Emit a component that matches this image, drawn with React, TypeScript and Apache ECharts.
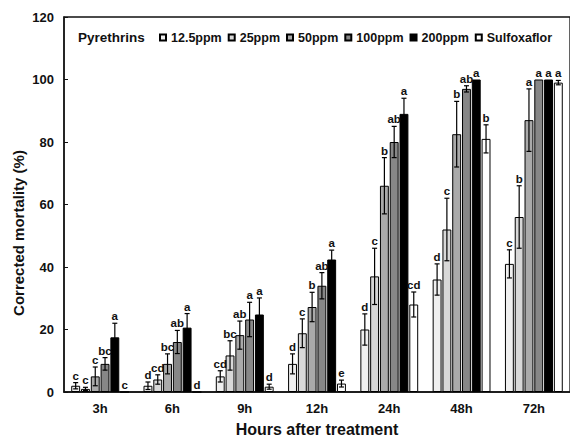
import React, { useEffect, useRef } from "react";
import * as echarts from "echarts";

const categories = ["3h", "6h", "9h", "12h", "24h", "48h", "72h"];
const seriesNames = ["12.5ppm", "25ppm", "50ppm", "100ppm", "200ppm", "Sulfoxaflor"];
const seriesColors = ["#efefef", "#d8d8d8", "#aaaaaa", "#878787", "#000000", "#ffffff"];

const values12_5 = [2, 2, 5, 9, 20, 36, 41];
const values25 = [1, 4, 11.7, 18.8, 37, 52, 56];
const values50 = [5, 9, 18.2, 27.2, 66, 82.5, 87];
const values100 = [9, 16, 23.2, 34, 80, 97, 100];
const values200 = [17.5, 20.6, 24.8, 42.4, 89, 100, 100];
const valuesSulfox = [0, 0, 1.7, 2.7, 28, 81, 99];

const err12_5 = [1, 1.2, 1.8, 3.2, 5, 5, 4.5];
const err25 = [0.5, 1.5, 4.7, 4.6, 9, 10, 10];
const err50 = [3, 3.2, 4.5, 4.7, 9, 10.5, 10];
const err100 = [2, 3.7, 5.5, 4.2, 5, 1, 0];
const err200 = [4.5, 4.5, 5.3, 3, 5, 0, 0];
const errSulfox = [0, 0, 0.8, 1.1, 4, 4.5, 0.7];

const letters12_5 = ["c", "d", "cd", "d", "d", "d", "c"];
const letters25 = ["c", "cd", "bc", "c", "c", "c", "b"];
const letters50 = ["c", "bc", "ab", "b", "b", "b", "a"];
const letters100 = ["bc", "ab", "a", "ab", "ab", "ab", "a"];
const letters200 = ["a", "a", "a", "a", "a", "a", "a"];
const lettersSulfox = ["c", "d", "d", "e", "cd", "b", "a"];

const yTicks = { min: 0, max: 120, interval: 20 };

const allValues = [values12_5, values25, values50, values100, values200, valuesSulfox];
const allErrors = [err12_5, err25, err50, err100, err200, errSulfox];
const allLetters = [letters12_5, letters25, letters50, letters100, letters200, lettersSulfox];

const FONT = "'Liberation Sans', Arial, sans-serif";
const CAT_GAP = 0.2;
const BAR_GAP = 0.1;

export default function App() {
  const ref = useRef<HTMLDivElement>(null);

  useEffect(() => {
    if (!ref.current) return;
    const chart = echarts.init(ref.current, null, { renderer: "svg" });
    const n = seriesNames.length;

    const barSeries = seriesNames.map((name, i) => ({
      name,
      type: "bar",
      data: allValues[i],
      barGap: `${BAR_GAP * 100}%`,
      barCategoryGap: `${CAT_GAP * 100}%`,
      itemStyle: { color: seriesColors[i], borderColor: "#000", borderWidth: 1 },
      z: 2,
    }));

    const errSeries = seriesNames.map((name, i) => ({
      name: "err_" + name,
      type: "custom",
      z: 5,
      data: allValues[i].map((v, k) => [k, v, allErrors[i][k]]),
      encode: { x: 0, y: 1 },
      renderItem: (params: any, api: any) => {
        const k = api.value(0);
        const v = api.value(1);
        const e = api.value(2);
        const band = api.size([1, 0])[0];
        const w = (band * (1 - CAT_GAP)) / (n + (n - 1) * BAR_GAP);
        const offset = -band * (1 - CAT_GAP) / 2 + i * w * (1 + BAR_GAP) + w / 2;
        const p = api.coord([k, v]);
        const cx = p[0] + offset;
        const top = api.coord([k, v + e])[1];
        const bot = api.coord([k, Math.max(v - e, 0)])[1];
        const cap = 2.5;
        const children: any[] = [];
        if (e > 0) {
          const ls = { stroke: "#000", lineWidth: 1.2 };
          children.push({ type: "line", shape: { x1: cx, y1: top, x2: cx, y2: bot }, style: ls });
          children.push({ type: "line", shape: { x1: cx - cap, y1: top, x2: cx + cap, y2: top }, style: ls });
          children.push({ type: "line", shape: { x1: cx - cap, y1: bot, x2: cx + cap, y2: bot }, style: ls });
        }
        children.push({
          type: "text",
          style: {
            x: cx,
            y: top - 1,
            text: allLetters[i][k],
            textAlign: "center",
            textVerticalAlign: "bottom",
            fontFamily: FONT,
            fontWeight: "bold",
            fontSize: 11.5,
            fill: "#111",
          },
        });
        return { type: "group", children };
      },
    }));

    chart.setOption({
      animation: false,
      backgroundColor: "#fff",
      grid: {
        left: 64,
        top: 17,
        width: 510,
        bottom: 45,
        show: true,
        borderColor: "#111",
        borderWidth: 1.3,
        backgroundColor: "transparent",
      },
      legend: {
        data: seriesNames,
        left: 159,
        top: 31,
        padding: 0,
        icon: "rect",
        itemWidth: 6,
        itemHeight: 6,
        itemGap: 6,
        selectedMode: false,
        textStyle: {
          fontFamily: FONT,
          fontWeight: "bold",
          fontSize: 12.5,
          color: "#111",
        },
      },
      xAxis: {
        type: "category",
        data: categories,
        axisLine: { lineStyle: { color: "#111", width: 1.5 } },
        axisTick: { inside: true, length: 3, lineStyle: { color: "#111" } },
        axisLabel: { margin: 10, fontFamily: FONT, fontWeight: "bold", fontSize: 13, color: "#111" },
        name: "Hours after treatment",
        nameLocation: "middle",
        nameGap: 29,
        nameTextStyle: { fontFamily: FONT, fontWeight: "bold", fontSize: 16, color: "#111" },
      },
      yAxis: {
        type: "value",
        min: yTicks.min,
        max: yTicks.max,
        interval: yTicks.interval,
        axisLine: { show: true, lineStyle: { color: "#111", width: 1.5 } },
        axisTick: { show: true, inside: true, length: 4, lineStyle: { color: "#111" } },
        splitLine: { show: false },
        axisLabel: { margin: 10, fontFamily: FONT, fontWeight: "bold", fontSize: 13, color: "#111" },
      },
      graphic: [
        {
          type: "text",
          left: 78,
          top: 30,
          style: {
            text: "Pyrethrins",
            fontFamily: FONT,
            fontWeight: "bold",
            fontSize: 13.5,
            fill: "#111",
          },
        },
        {
          type: "text",
          x: 18,
          y: 233,
          rotation: Math.PI / 2,
          style: {
            text: "Corrected mortality (%)",
            fontFamily: FONT,
            fontWeight: "bold",
            fontSize: 15,
            fill: "#111",
            textAlign: "center",
            textVerticalAlign: "middle",
          },
        },
      ],
      series: [...barSeries, ...errSeries],
    });

    return () => chart.dispose();
  }, []);

  return (
    <div
      ref={ref}
      style={{ position: "absolute", left: 0, top: 0, width: 570, height: 442, background: "#fff" }}
    />
  );
}
